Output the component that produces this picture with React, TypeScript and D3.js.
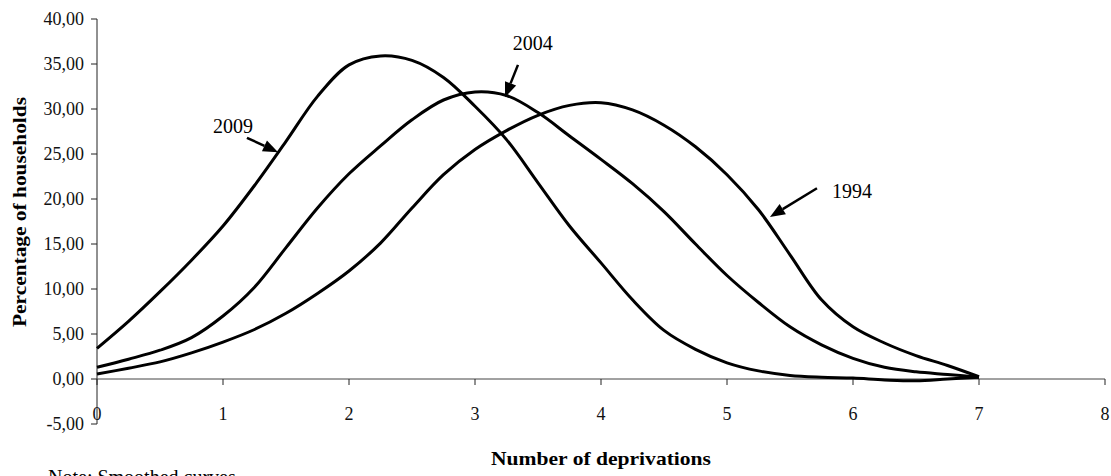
import React from 'react';
import * as d3 from 'd3';

// Number of deprivations (x positions of the read points)
const xValues = [0, 0.25, 0.5, 0.75, 1, 1.25, 1.5, 1.75, 2, 2.25, 2.5, 2.75, 3, 3.25, 3.5, 3.75, 4, 4.25, 4.5, 4.75, 5, 5.25, 5.5, 5.75, 6, 6.25, 6.5, 6.75, 7];

// Percentage of households
const series1994 = [0.55, 1.2, 1.9, 2.9, 4.1, 5.5, 7.3, 9.5, 12.0, 15.1, 19.0, 22.7, 25.5, 27.6, 29.3, 30.4, 30.7, 29.9, 28.2, 25.8, 22.7, 18.8, 13.8, 8.8, 5.8, 4.0, 2.6, 1.5, 0.25];
const series2004 = [1.3, 2.2, 3.2, 4.6, 7.0, 10.2, 14.6, 19.0, 22.8, 25.9, 28.8, 31.0, 31.9, 31.5, 29.6, 27.0, 24.4, 21.7, 18.6, 15.0, 11.5, 8.5, 5.8, 3.8, 2.3, 1.3, 0.8, 0.5, 0.2];
const series2009 = [3.4, 6.4, 9.7, 13.2, 17.0, 21.5, 26.4, 31.4, 34.9, 35.9, 35.4, 33.5, 30.3, 26.6, 21.8, 17.0, 12.9, 8.8, 5.4, 3.3, 1.8, 0.9, 0.4, 0.2, 0.1, -0.1, -0.2, 0.0, 0.2];

const xTicks = [0, 1, 2, 3, 4, 5, 6, 7, 8];
const yTicks = [-5, 0, 5, 10, 15, 20, 25, 30, 35, 40];

// Annotation labels with arrow (data coordinates)
const annLabels = ['2009', '2004', '1994'];
const annText = [[0.92, 27.3], [3.3, 36.6], [5.833, 20.1]];
const annFrom = [[1.19, 26.8], [3.341, 34.9], [5.714, 21.2]];
const annTip = [[1.437, 25.2], [3.238, 31.3], [5.341, 18.0]];

const W = 1111;
const H = 476;
const FONT = '"Liberation Serif", "Times New Roman", serif';

export default function App() {
  const x = d3.scaleLinear().domain([0, 8]).range([97, 1105]);
  const y = d3.scaleLinear().domain([-5, 40]).range([424, 19]);

  const line = d3
    .line<[number, number]>()
    .x((d) => x(d[0]))
    .y((d) => y(d[1]))
    .curve(d3.curveCatmullRom.alpha(0.5));

  const allSeries = [series1994, series2004, series2009];
  const fmt = (v: number) => d3.format('.2f')(v).replace('.', ',').replace('−', '-');

  const arrowHead = (fx: number, fy: number, tx: number, ty: number) => {
    const dx = tx - fx;
    const dy = ty - fy;
    const len = Math.sqrt(dx * dx + dy * dy);
    const ux = dx / len;
    const uy = dy / len;
    const hl = 15;
    const hw = 6;
    const bx = tx - ux * hl;
    const by = ty - uy * hl;
    return {
      pts: `${tx},${ty} ${bx - uy * hw},${by + ux * hw} ${bx + uy * hw},${by - ux * hw}`,
      bx,
      by,
    };
  };

  const y0 = y(0);

  return (
    <svg
      width={W}
      height={H}
      style={{ position: 'absolute', left: 0, top: 0, background: '#fff', overflow: 'hidden' }}
      fontFamily={FONT}
    >
      <rect x={0} y={0} width={W} height={H} fill="#fff" />
      {/* Y axis */}
      <line x1={x(0)} x2={x(0)} y1={y(40)} y2={y(-5)} stroke="#222" strokeWidth={1} />
      {yTicks.map((t) => (
        <g key={'yt' + t}>
          <line x1={x(0) - 6} x2={x(0)} y1={y(t)} y2={y(t)} stroke="#222" strokeWidth={1} />
          <text x={x(0) - 13} y={y(t) + 6} textAnchor="end" fontSize={18} fill="#111">
            {fmt(t)}
          </text>
        </g>
      ))}
      {/* X axis at 0 */}
      <line x1={x(0)} x2={x(8)} y1={y0} y2={y0} stroke="#444" strokeWidth={1} />
      {xTicks.map((t) => (
        <g key={'xt' + t}>
          <line x1={x(t)} x2={x(t)} y1={y0} y2={y0 + 6} stroke="#222" strokeWidth={1} />
          <text x={x(t)} y={420} textAnchor="middle" fontSize={18} fill="#111">
            {t}
          </text>
        </g>
      ))}
      {/* Series */}
      {allSeries.map((s, i) => (
        <path
          key={'s' + i}
          d={line(xValues.map((xv, j) => [xv, s[j]] as [number, number])) || ''}
          fill="none"
          stroke="#000"
          strokeWidth={3}
          strokeLinejoin="round"
        />
      ))}
      {/* Annotations */}
      {annLabels.map((lab, i) => {
        const fx = x(annFrom[i][0]);
        const fy = y(annFrom[i][1]);
        const tx = x(annTip[i][0]);
        const ty = y(annTip[i][1]);
        const ah = arrowHead(fx, fy, tx, ty);
        return (
          <g key={'a' + i}>
            <text x={x(annText[i][0])} y={y(annText[i][1])} fontSize={20} fill="#000">
              {lab}
            </text>
            <line x1={fx} y1={fy} x2={ah.bx} y2={ah.by} stroke="#000" strokeWidth={2.5} />
            <polygon points={ah.pts} fill="#000" />
          </g>
        );
      })}
      {/* Axis titles */}
      <text
        transform={`translate(26, 212) rotate(-90)`}
        textAnchor="middle"
        fontSize={19}
        fontWeight="bold"
        fill="#000"
        textLength={230}
        lengthAdjust="spacingAndGlyphs"
      >
        Percentage of households
      </text>
      <text
        x={601}
        y={465}
        textAnchor="middle"
        fontSize={19}
        fontWeight="bold"
        fill="#000"
        textLength={220}
        lengthAdjust="spacingAndGlyphs"
      >
        Number of deprivations
      </text>
      <text x={48} y={484} fontSize={20} fill="#000">
        Note: Smoothed curves
      </text>
    </svg>
  );
}
